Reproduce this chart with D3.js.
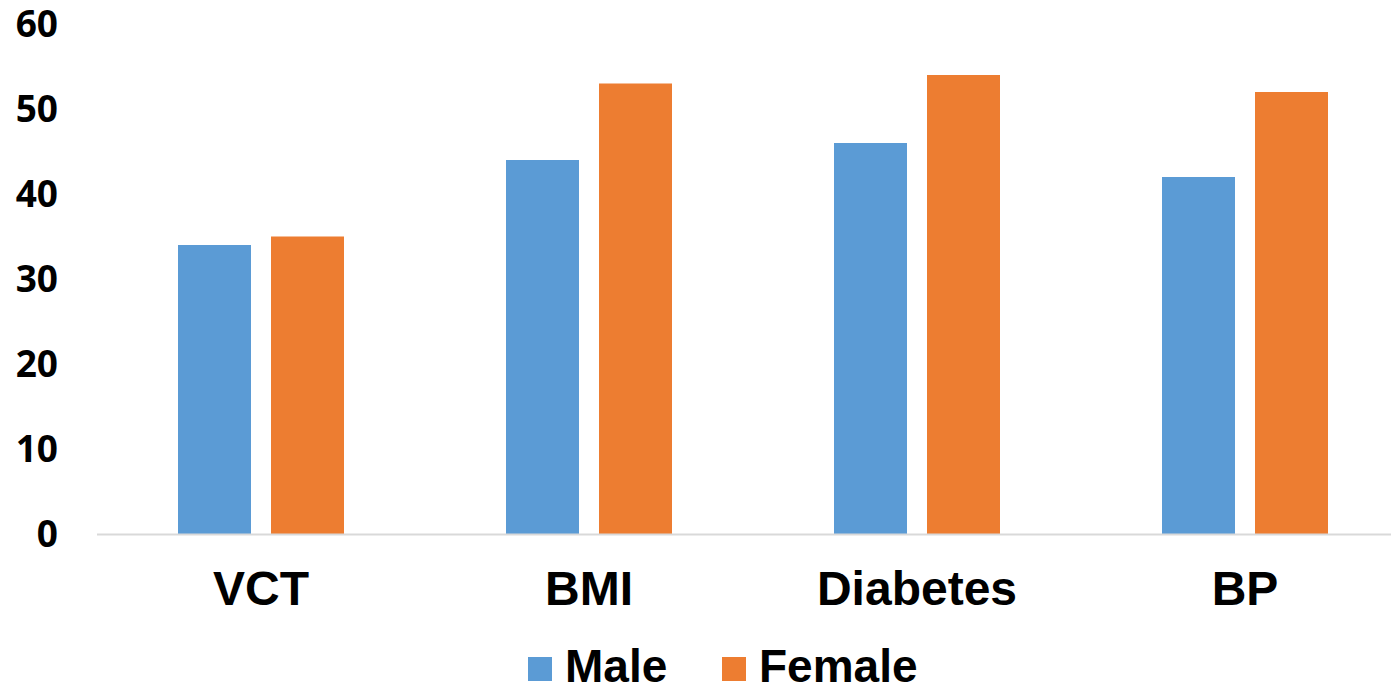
<!DOCTYPE html>
<html><head><meta charset="utf-8">
<script src="https://cdn.jsdelivr.net/npm/d3@7"></script>
<style>body{margin:0;background:#fff}svg{display:block}</style>
</head><body>
<svg id="chart" width="1391" height="687"></svg>
<script>
const categories = ["VCT", "BMI", "Diabetes", "BP"];
const seriesNames = ["Male", "Female"];
const maleValues = [34, 44, 46, 42];
const femaleValues = [35, 53, 54, 52];
const yTicks = [0, 10, 20, 30, 40, 50, 60];
const colors = ["#5B9BD5", "#ED7D31"];

const seriesValues = [maleValues, femaleValues];
const svg = d3.select("#chart");

const x = d3.scaleBand().domain(categories).range([97, 1409]).paddingInner(0).paddingOuter(0);
const groupPad = (x.bandwidth() - 166) / 2;
const xs = d3.scaleBand().domain(seriesNames).range([groupPad, groupPad + 166]).paddingInner(20 / 93).paddingOuter(0);
const y = d3.scaleLinear().domain([0, 60]).range([534, 24]);

// Y tick labels
svg.append("g").selectAll("text").data(yTicks).join("text")
  .attr("x", 58).attr("y", d => y(d)).attr("dy", "0.36em")
  .attr("text-anchor", "end")
  .attr("font-family", "'Open Sans', sans-serif").attr("font-weight", "bold")
  .attr("font-size", 37).attr("fill", "#000")
  .text(d => d);

// Bars
const groups = svg.append("g").selectAll("g").data(categories).join("g")
  .attr("transform", c => `translate(${x(c)},0)`);
groups.selectAll("rect").data((c, i) => seriesNames.map((s, j) => ({s, j, v: seriesValues[j][i]})))
  .join("rect")
  .attr("x", d => xs(d.s)).attr("width", xs.bandwidth())
  .attr("y", d => y(d.v)).attr("height", d => y(0) - y(d.v))
  .attr("fill", d => colors[d.j]);

// Axis line
svg.append("line").attr("x1", 97).attr("x2", 1409).attr("y1", y(0) + 0.5).attr("y2", y(0) + 0.5)
  .attr("stroke", "#d9d9d9").attr("stroke-width", 2);

// Category labels
svg.append("g").selectAll("text").data(categories).join("text")
  .attr("x", c => x(c) + x.bandwidth() / 2).attr("y", 605)
  .attr("text-anchor", "middle")
  .attr("font-family", "'Liberation Sans', Arial, sans-serif").attr("font-weight", "bold")
  .attr("font-size", 48).attr("fill", "#000")
  .text(c => c);

// Legend
const legendX = [528, 722];
const leg = svg.append("g").selectAll("g").data(seriesNames).join("g")
  .attr("transform", (d, i) => `translate(${legendX[i]},0)`);
leg.append("rect").attr("x", 0).attr("y", 657).attr("width", 24).attr("height", 24)
  .attr("fill", (d, i) => colors[i]);
leg.append("text").attr("x", 37).attr("y", 682)
  .attr("font-family", "'Liberation Sans', Arial, sans-serif").attr("font-weight", "bold")
  .attr("font-size", 46).attr("fill", "#000")
  .text(d => d);
</script>
</body></html>
